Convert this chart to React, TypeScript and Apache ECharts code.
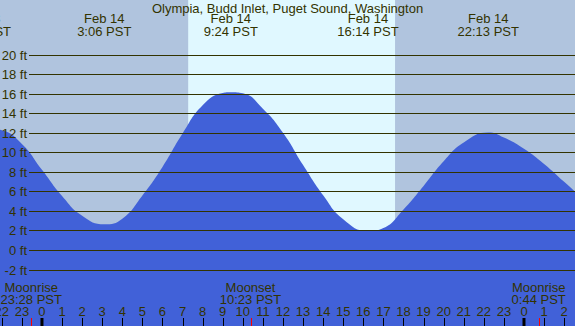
import React, { useEffect, useRef } from "react";
import * as echarts from "echarts";

// ---- data ----
const TITLE = "Olympia, Budd Inlet, Puget Sound, Washington";

// tide curve: hours relative to Feb 14 00:00 PST, heights in ft
const tideHours = [-3, -2, -1, 0, 1, 2, 3.1, 4, 5, 6, 7, 8, 9, 9.4, 10, 11, 12, 13, 14, 15, 16.23, 17, 18, 19, 20, 21, 22.22, 23, 24, 25, 26, 27];
const tideHeights = [12.55, 12.3, 10.9, 8.25, 5.57, 3.55, 2.68, 3.25, 5.63, 8.55, 11.97, 14.85, 16.12, 16.2, 16.08, 14.5, 12.05, 8.75, 5.66, 3.2, 2.0, 2.3, 4.2, 6.6, 9.12, 11.04, 12.07, 11.55, 10.42, 8.86, 7.03, 5.2];

// high / low tide labels
const extremeHours = [-3.07, 3.1, 9.4, 16.23, 22.22];
const extremeDates = ["Feb 13", "Feb 14", "Feb 14", "Feb 14", "Feb 14"];
const extremeTimes = ["20:56 PST", "3:06 PST", "9:24 PST", "16:14 PST", "22:13 PST"];

// y ticks (ft)
const yTicks = [-2, 0, 2, 4, 6, 8, 10, 12, 14, 16, 18, 20];

// hour ticks
const hourTicks = [-2, -1, 0, 1, 2, 3, 4, 5, 6, 7, 8, 9, 10, 11, 12, 13, 14, 15, 16, 17, 18, 19, 20, 21, 22, 23, 24, 25, 26];

// moon events
const moonHours = [-0.533, 10.383, 24.733];
const moonNames = ["Moonrise", "Moonset", "Moonrise"];
const moonTimes = ["23:28 PST", "10:23 PST", "0:44 PST"];

// daylight
const SUNRISE = 7.28;
const SUNSET = 17.58;

// visible range
const X_MIN = -2.09;
const X_MAX = 26.54;
const Y_MIN = -7.73;
const Y_MAX = 25.63;

// ---- style ----
const NIGHT = "#B0C4DE";
const DAY = "#E0F8FF";
const WATER = "#4161D8";
const INK = "#333300";
const FONT_FAMILY = "'Liberation Sans', Arial, sans-serif";
const FS = 13;

export default function App() {
  const ref = useRef<HTMLDivElement>(null);

  useEffect(() => {
    document.body.style.margin = "0";
    if (!ref.current) return;
    const chart = echarts.init(ref.current, null, { renderer: "svg" });

    const txt = (x: number, y: number, text: string, align = "center") => ({
      type: "text",
      x,
      y,
      style: {
        text,
        align,
        verticalAlign: "middle",
        fill: INK,
        fontSize: FS,
        fontFamily: FONT_FAMILY,
      },
    });

    const option: any = {
      animation: false,
      backgroundColor: NIGHT,
      title: {
        text: TITLE,
        left: "center",
        top: 0,
        padding: 0,
        textStyle: {
          color: INK,
          fontSize: FS,
          fontWeight: "normal",
          fontFamily: FONT_FAMILY,
          lineHeight: 16,
        },
      },
      grid: { left: 0, right: 0, top: 0, bottom: 0 },
      xAxis: { type: "value", min: X_MIN, max: X_MAX, show: false },
      yAxis: { type: "value", min: Y_MIN, max: Y_MAX, show: false },
      series: [
        {
          type: "custom",
          z: 1,
          data: [[SUNRISE, SUNSET, 0]],
          encode: { x: [0, 1], y: 2 },
          renderItem: (_p: any, api: any) => {
            const a = api.coord([api.value(0), Y_MAX]);
            const b = api.coord([api.value(1), Y_MIN]);
            return {
              type: "rect",
              shape: { x: a[0], y: a[1], width: b[0] - a[0], height: b[1] - a[1] },
              style: { fill: DAY },
            };
          },
        },
        {
          type: "line",
          z: 2,
          data: tideHours.map((h, i) => [h, tideHeights[i]]),
          smooth: 0.5,
          showSymbol: false,
          symbol: "none",
          lineStyle: { width: 0, color: WATER },
          areaStyle: { color: WATER, opacity: 1, origin: "start" },
        },
        {
          type: "custom",
          z: 3,
          data: yTicks.map((v) => [X_MIN, v]),
          encode: { x: 0, y: 1 },
          renderItem: (_p: any, api: any) => {
            const v = api.value(1);
            const y = Math.floor(api.coord([X_MIN, v])[1]) + 0.5;
            return {
              type: "group",
              children: [
                {
                  type: "line",
                  shape: { x1: 29, y1: y, x2: api.getWidth(), y2: y },
                  style: { stroke: INK, lineWidth: 1 },
                },
                txt(27, y, v + " ft", "right"),
              ],
            };
          },
        },
        {
          type: "custom",
          z: 4,
          data: extremeHours.map((h, i) => [h, i]),
          encode: { x: 0, y: 1 },
          renderItem: (p: any, api: any) => {
            const i = p.dataIndex;
            const x = api.coord([api.value(0), 0])[0];
            return {
              type: "group",
              children: [txt(x, 18.5, extremeDates[i]), txt(x, 31.5, extremeTimes[i])],
            };
          },
        },
        {
          type: "custom",
          z: 4,
          data: hourTicks.map((h) => [h, 0]),
          encode: { x: 0, y: 1 },
          renderItem: (_p: any, api: any) => {
            const h = api.value(0);
            const x = api.coord([h, 0])[0];
            const label = String(((h % 24) + 24) % 24);
            const mid = ((h % 24) + 24) % 24 === 0;
            const tick = mid
              ? { type: "rect", shape: { x: x - 1.5, y: 318, width: 3, height: 8 }, style: { fill: "#000000" } }
              : {
                  type: "line",
                  shape: { x1: Math.round(x) + 0.5, y1: 318, x2: Math.round(x) + 0.5, y2: 326 },
                  style: { stroke: "#000000", lineWidth: 1 },
                };
            return { type: "group", children: [tick, txt(x, 311.5, label)] };
          },
        },
        {
          type: "custom",
          z: 5,
          data: moonHours.map((h, i) => [h, i]),
          encode: { x: 0, y: 1 },
          renderItem: (p: any, api: any) => {
            const i = p.dataIndex;
            const x = api.coord([api.value(0), 0])[0];
            const xr = Math.round(x) + 0.5;
            return {
              type: "group",
              children: [
                { type: "line", shape: { x1: xr, y1: 318, x2: xr, y2: 326 }, style: { stroke: "#FF0000", lineWidth: 1 } },
                txt(x, 287.5, moonNames[i]),
                txt(x, 299.5, moonTimes[i]),
              ],
            };
          },
        },
      ],
    };

    chart.setOption(option);
    return () => chart.dispose();
  }, []);

  return <div ref={ref} style={{ width: 575, height: 326 }} />;
}
